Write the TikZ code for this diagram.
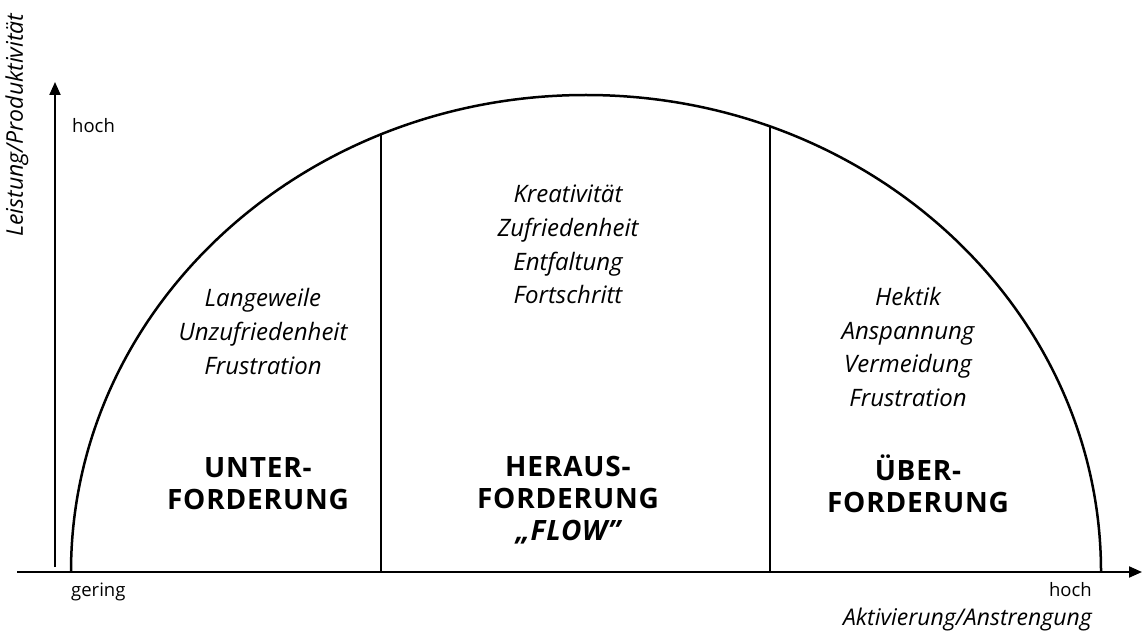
\documentclass[tikz,border=0pt]{standalone}
\usepackage{fontspec}
\setmainfont{Open Sans}
\usetikzlibrary{arrows.meta}
\tikzset{
  axis/.style={line width=2pt,-{Triangle[length=13pt,width=11pt]}},
  arch/.style={line width=2.5pt},
  divider/.style={line width=1.6pt},
  small/.style={font=\fontsize{18.5}{22}\selectfont,inner sep=0pt},
  axlabel/.style={font=\fontsize{23}{26}\selectfont\itshape,inner sep=0pt},
  words/.style={align=center,inner sep=0pt,font=\fontsize{24}{33.8}\selectfont\itshape},
  zone/.style={align=center,inner sep=0pt,font=\fontsize{28}{32}\selectfont\bfseries\addfontfeature{LetterSpace=3}},
}
\begin{document}
\begin{tikzpicture}[x=1pt,y=1pt]
\useasboundingbox (0,0) rectangle (1142,633);
% axes
\coordinate (ybot) at (55,66);
\coordinate (ytop) at (55,551);
\coordinate (xleft) at (17,61);
\coordinate (xright) at (1142,61);
\draw[axis] (ybot) -- (ytop);
\draw[axis] (xleft) -- (xright);
% arch
\coordinate (aleft) at (71,61);
\draw[arch] (aleft) arc[start angle=180,end angle=0,x radius=515,y radius=477];
% dividers
\coordinate (d1b) at (381,61);
\coordinate (d1t) at (381,498.6);
\coordinate (d2b) at (770,61);
\coordinate (d2t) at (770,506.5);
\draw[divider] (d1b) -- (d1t);
\draw[divider] (d2b) -- (d2t);
% axis labels
\node[axlabel,rotate=90] (ylab) at (17,508) {Leistung/Produktivität};
\node[small,anchor=west] (yhoch) at (72,507) {hoch};
\node[small,anchor=west] (gering) at (71,41) {gering};
\node[small,anchor=east] (xhoch) at (1092,43) {hoch};
\node[axlabel,anchor=east] (xlab) at (1092,13) {Aktivierung/Anstrengung};
% column words
\node[words] (wleft) at (263,301.5) {Langeweile\\Unzufriedenheit\\Frustration};
\node[words] (wmid) at (568,388.5) {Kreativität\\Zufriedenheit\\Entfaltung\\Fortschritt};
\node[words] (wright) at (908,286) {Hektik\\Anspannung\\Vermeidung\\Frustration};
% zones
\node[zone] (zleft) at (258,149) {UNTER-\\FORDERUNG};
\node[zone] (zmid) at (568,133) {HERAUS-\\FORDERUNG\\{\itshape „FLOW”}};
\node[zone] (zright) at (918,149) {ÜBER-\\FORDERUNG};
\end{tikzpicture}
\end{document}
